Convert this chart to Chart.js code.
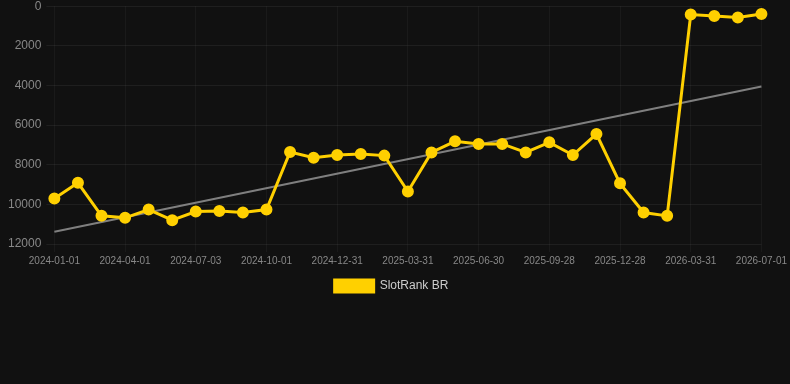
<!DOCTYPE html>
<html>
<head>
<meta charset="utf-8">
<script src="https://cdn.jsdelivr.net/npm/chart.js@4.4.1/dist/chart.umd.min.js"></script>
<style>
  html, body { margin: 0; padding: 0; background: #111111; overflow: hidden; }
  #wrap { width: 790px; height: 308px; position: relative; top: -6px; }
</style>
</head>
<body>
<div id="wrap"><canvas id="chart"></canvas></div>
<script>
// dates (monthly samples)
const labels = [
  '2024-01-01','2024-01-31','2024-03-01','2024-04-01','2024-05-01','2024-06-02',
  '2024-07-03','2024-08-02','2024-09-01','2024-10-01','2024-10-31','2024-12-01',
  '2024-12-31','2025-01-30','2025-03-01','2025-03-31','2025-04-30','2025-05-31',
  '2025-06-30','2025-07-30','2025-08-29','2025-09-28','2025-10-28','2025-11-28',
  '2025-12-28','2026-01-28','2026-02-28','2026-03-31','2026-05-01','2026-05-31',
  '2026-07-01'
];

// rank values
const rank = [
  9700, 8910, 10580, 10680, 10260, 10800,
  10360, 10330, 10410, 10260, 7360, 7650,
  7510, 7460, 7540, 9350, 7380, 6820,
  6950, 6950, 7380, 6870, 7510, 6450,
  8940, 10410, 10580, 420, 490, 570,
  390
];

// trend line end points
const trendStart = 11380;
const trendEnd = 4050;

const yTicks = [0, 2000, 4000, 6000, 8000, 10000, 12000];

Chart.defaults.font.family = "Arial, 'Liberation Sans', sans-serif";
Chart.defaults.color = '#888888';

new Chart(document.getElementById('chart'), {
  type: 'line',
  data: {
    labels: labels,
    datasets: [
      {
        label: 'SlotRank BR',
        data: rank,
        borderColor: '#FFD000',
        backgroundColor: '#FFD000',
        borderWidth: 3,
        pointRadius: 4.5,
        pointHoverRadius: 6,
        tension: 0
      },
      {
        label: 'trend',
        data: [
          { x: labels[0], y: trendStart },
          { x: labels[labels.length - 1], y: trendEnd }
        ],
        borderColor: 'rgba(140,140,140,0.9)',
        borderWidth: 2,
        pointRadius: 0,
        tension: 0
      }
    ]
  },
  options: {
    responsive: true,
    maintainAspectRatio: false,
    animation: false,
    layout: { padding: { top: 3, left: 3, right: 10, bottom: 0 } },
    plugins: {
      legend: {
        position: 'bottom',
        labels: {
          color: '#cccccc',
          boxWidth: 39,
          boxHeight: 12,
          font: { size: 12 },
          filter: item => item.text !== 'trend'
        }
      },
      tooltip: { enabled: false }
    },
    scales: {
      y: {
        reverse: true,
        min: 0,
        max: 12000,
        afterBuildTicks: axis => { axis.ticks = yTicks.map(v => ({ value: v })); },
        grid: { color: 'rgba(255,255,255,0.06)' },
        border: { display: false },
        ticks: {
          color: '#888888',
          font: { size: 12 },
          padding: 5,
          callback: v => String(v)
        }
      },
      x: {
        grid: { color: 'rgba(255,255,255,0.04)' },
        border: { display: false },
        ticks: {
          color: '#888888',
          font: { size: 10 },
          maxRotation: 0,
          autoSkip: false,
          callback: function (v, i) { return i % 3 === 0 ? labels[i] : null; }
        }
      }
    }
  }
});
</script>
</body>
</html>
